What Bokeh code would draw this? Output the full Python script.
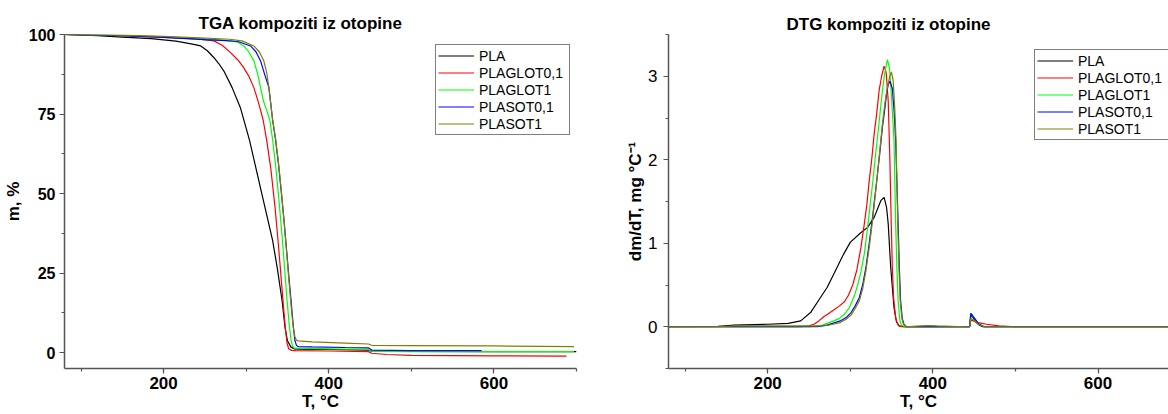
from bokeh.plotting import figure
from bokeh.layouts import row
from bokeh.models import Legend, LegendItem, SingleIntervalTicker, Range1d, Title
from bokeh.embed import file_html
from bokeh.resources import INLINE

FONT = "Liberation Sans"

series_names = ["PLA", "PLAGLOT0,1", "PLAGLOT1", "PLASOT0,1", "PLASOT1"]
series_colors = ["#000000", "#FF0000", "#00FF00", "#0000FF", "#808000"]

# ---------------- TGA (m, %) ----------------
pla_tga_T = [80, 120, 150, 185, 215, 235, 245, 253, 261, 267, 273, 283, 293, 304, 318, 332, 338, 343.5, 347, 350, 354, 358, 365, 400, 448, 452, 500, 600, 700]
pla_tga_m = [100, 99.6, 99.2, 98.7, 97.9, 97.0, 96.4, 94.9, 92.7, 90.8, 88.5, 83.3, 77.0, 66.8, 51.0, 35.3, 26.0, 16.3, 8.0, 3.7, 1.8, 1.2, 1.1, 1.0, 0.8, 0.4, 0.4, 0.3, 0.3]

glot01_tga_T = [80, 150, 200, 240, 261, 271, 281, 290, 297, 303, 309.3, 315, 320.5, 325, 330, 335, 339, 342, 345, 347.5, 349.5, 351.5, 355, 360, 400, 448, 452, 470, 500, 600, 688]
glot01_tga_m = [100, 99.6, 99.1, 98.6, 98.0, 96.6, 94.3, 92.0, 89.6, 87.0, 83.3, 78.5, 73.2, 66.5, 57.5, 45.5, 34.0, 24.5, 15.0, 7.5, 3.0, 1.2, 0.7, 0.6, 0.5, 0.3, -0.2, -0.6, -0.9, -1.0, -1.1]

glot1_tga_T = [80, 150, 200, 250, 281, 290, 297, 303, 309.3, 314, 317.4, 321, 325, 328.5, 332, 336, 340, 343.5, 346.5, 349.5, 352, 354, 356, 358, 362, 400, 448, 452, 500, 600, 697]
glot1_tga_m = [100, 99.7, 99.3, 98.7, 98.0, 97.6, 96.4, 94.6, 91.7, 87.5, 83.3, 79.0, 76.0, 73.2, 67.0, 58.0, 47.0, 36.5, 26.5, 16.5, 9.0, 4.5, 2.0, 1.5, 1.4, 1.2, 1.0, 0.4, 0.3, 0.3, 0.3]

sot01_tga_T = [80, 150, 200, 250, 275, 290, 305.3, 312, 317.4, 322, 327.5, 332, 335.5, 339, 342.5, 346, 349, 352, 355, 357, 359, 361, 363, 380, 420, 448, 452, 500, 585]
sot01_tga_m = [100, 99.6, 99.1, 98.4, 98.1, 97.8, 96.4, 94.5, 91.7, 87.8, 83.3, 73.2, 67.0, 59.5, 50.5, 41.0, 32.0, 23.0, 14.5, 8.5, 3.8, 2.2, 1.9, 1.8, 1.6, 1.5, 0.8, 0.6, 0.6]

sot1_tga_T = [80, 150, 200, 250, 280, 295, 309.3, 316, 321.4, 325, 327.5, 332, 335.5, 339, 342.5, 346, 349, 352, 355, 357, 359, 361, 363, 380, 420, 448, 452, 500, 600, 697]
sot1_tga_m = [100, 99.8, 99.4, 98.9, 98.5, 98.0, 96.4, 94.5, 91.7, 87.8, 83.3, 73.2, 67.5, 60.0, 51.0, 41.0, 31.5, 22.0, 13.0, 8.0, 5.0, 3.9, 3.7, 3.4, 3.0, 2.7, 2.3, 2.2, 2.1, 1.9]

# ---------------- DTG (dm/dT, mg/°C) ----------------
pla_dtg_T = [80, 140, 160, 200, 225, 240, 252, 264, 272, 280, 292, 300, 312, 321, 329, 337, 341, 344, 346, 349, 353, 356, 359, 365, 440, 444.5, 446, 448, 452, 456, 460, 700]
pla_dtg_v = [0, 0.005, 0.02, 0.03, 0.04, 0.07, 0.17, 0.35, 0.47, 0.63, 0.87, 1.01, 1.12, 1.19, 1.31, 1.51, 1.55, 1.43, 1.23, 0.71, 0.23, 0.06, 0.01, 0, 0, 0.0, 0.14, 0.12, 0.06, 0.02, 0, 0]

glot01_dtg_T = [80, 240, 250, 256, 262, 268, 274, 280, 287, 293, 298, 303, 308, 313, 317, 320, 323, 326, 329, 332, 335, 338, 341, 343.5, 346, 348, 349.5, 351, 352.5, 355, 358, 362, 440, 444.5, 446, 449, 455, 465, 480, 500, 700]
glot01_dtg_v = [0, 0, 0.01, 0.03, 0.07, 0.12, 0.16, 0.2, 0.25, 0.3, 0.38, 0.5, 0.68, 0.95, 1.23, 1.45, 1.75, 2.0, 2.31, 2.55, 2.83, 3.0, 3.12, 3.05, 2.7, 2.0, 1.3, 0.7, 0.35, 0.1, 0.02, 0, 0, 0, 0.08, 0.07, 0.05, 0.03, 0.01, 0, 0]

glot1_dtg_T = [80, 250, 264, 272, 280, 287, 293, 299, 305, 309, 313, 317, 321, 324, 327, 330, 333, 336, 339, 342, 345, 347.5, 350, 353, 355, 356.5, 358, 360, 362, 366, 440, 444.5, 446, 449, 455, 462, 700]
glot1_dtg_v = [0, 0, 0.01, 0.04, 0.07, 0.1, 0.15, 0.23, 0.37, 0.5, 0.66, 0.87, 1.19, 1.45, 1.71, 2.0, 2.27, 2.55, 2.83, 3.05, 3.2, 3.1, 2.75, 2.23, 1.23, 0.7, 0.31, 0.08, 0.02, 0, 0, 0, 0.16, 0.12, 0.04, 0, 0]

sot01_dtg_T = [80, 260, 272, 288, 295, 301, 306, 311, 315, 319, 323, 327, 330, 333, 336, 339, 342, 344, 346, 348.2, 351, 353, 355, 358, 359.5, 361, 363, 365, 368, 440, 444.5, 446, 449, 455, 462, 700]
sot01_dtg_v = [0, 0, 0.02, 0.07, 0.11, 0.17, 0.25, 0.35, 0.5, 0.71, 1.0, 1.31, 1.57, 1.83, 2.1, 2.39, 2.62, 2.79, 2.9, 2.94, 2.85, 2.6, 2.23, 1.23, 0.7, 0.31, 0.1, 0.03, 0, 0, 0, 0.16, 0.12, 0.04, 0, 0]

sot1_dtg_T = [80, 140, 160, 260, 272, 288, 295, 301, 306, 311, 315, 319, 323, 327, 330, 333, 336, 339, 342, 345, 348, 349.9, 352, 354, 355.5, 357.5, 359, 360.5, 362.5, 364.5, 368, 385, 395, 405, 440, 444.5, 446, 449, 455, 462, 700]
sot1_dtg_v = [0, 0, 0.01, 0.01, 0.015, 0.05, 0.09, 0.14, 0.22, 0.31, 0.45, 0.67, 0.95, 1.27, 1.55, 1.83, 2.13, 2.43, 2.68, 2.87, 3.0, 3.05, 2.95, 2.6, 2.23, 1.23, 0.7, 0.31, 0.1, 0.03, 0, 0.01, 0.015, 0.01, 0, 0, 0.1, 0.08, 0.03, 0, 0]

tga_series = [(pla_tga_T, pla_tga_m), (glot01_tga_T, glot01_tga_m), (glot1_tga_T, glot1_tga_m),
              (sot01_tga_T, sot01_tga_m), (sot1_tga_T, sot1_tga_m)]
dtg_series = [(pla_dtg_T, pla_dtg_v), (glot01_dtg_T, glot01_dtg_v), (glot1_dtg_T, glot1_dtg_v),
              (sot01_dtg_T, sot01_dtg_v), (sot1_dtg_T, sot1_dtg_v)]

H = 414


def make_fig(width, bl, br, xr, yr, xint, yint, ybold, xlabel, ylabel, ylabel_standoff):
    p = figure(width=width, height=H, x_range=Range1d(*xr), y_range=Range1d(*yr),
               output_backend="svg", toolbar_location=None, title=None,
               min_border_left=bl, min_border_right=br, min_border_top=34, min_border_bottom=46)
    p.outline_line_color = None
    p.grid.visible = False
    p.background_fill_color = "white"
    p.border_fill_color = "white"
    p.xaxis.ticker = SingleIntervalTicker(interval=xint, num_minor_ticks=2)
    p.yaxis.ticker = SingleIntervalTicker(interval=yint, num_minor_ticks=2)
    for ax in (p.xaxis[0], p.yaxis[0]):
        ax.axis_line_color = "#555555"
        ax.axis_line_width = 1.5
        ax.major_tick_line_color = "#555555"
        ax.minor_tick_line_color = "#555555"
        ax.major_tick_line_width = 1.2
        ax.minor_tick_line_width = 1.2
        ax.major_tick_in = 0
        ax.minor_tick_in = 0
        ax.major_tick_out = 5
        ax.minor_tick_out = 3
        ax.major_label_text_font = FONT
        ax.major_label_text_color = "black"
        ax.axis_label_text_font = FONT
        ax.axis_label_text_font_size = "17px"
        ax.axis_label_text_font_style = "bold"
        ax.axis_label_text_color = "black"
    p.xaxis.axis_label = xlabel
    p.yaxis.axis_label = ylabel
    p.xaxis.axis_label_standoff = 0
    p.yaxis.axis_label_standoff = ylabel_standoff
    p.xaxis.major_label_text_font_size = "17px"
    p.xaxis.major_label_text_font_style = "bold"
    p.xaxis.major_label_standoff = 3
    p.yaxis.major_label_text_font_size = "16px" if ybold else "17px"
    p.yaxis.major_label_text_font_style = "bold" if ybold else "normal"
    p.yaxis.major_label_standoff = 4 if ybold else 6
    return p


def add_title(p, text, offset, standoff):
    p.add_layout(Title(text=text, align="left", offset=offset, standoff=standoff,
                       text_font=FONT, text_font_size="17px", text_font_style="bold",
                       text_color="black"), "above")


def add_legend(p, renderers, loc):
    items = [LegendItem(label=n, renderers=[r]) for n, r in zip(series_names, renderers)]
    lg = Legend(items=items, location=loc, padding=2, spacing=0, margin=0,
                label_text_font=FONT, label_text_font_size="14px", label_text_color="black",
                glyph_width=36, glyph_height=17, label_height=17, label_standoff=5,
                label_width=88, border_line_color="black", border_line_width=1,
                background_fill_color="white", background_fill_alpha=1.0)
    p.add_layout(lg)


# ---------------- left: TGA ----------------
p1 = make_fig(600, 63, 24, (80, 700), (-5, 100), 200, 25, True, "T, °C", "m, %", 3)
r1 = []
for (t, m), c in zip(tga_series, series_colors):
    r1.append(p1.line(t, m, line_color=c, line_width=1.2))
add_legend(p1, r1, (371, 233))
add_title(p1, "TGA kompoziti iz otopine", 134, 4)

# ---------------- right: DTG ----------------
p2 = make_fig(568, 68, 0, (80, 685.3), (-0.5, 3.5), 200, 1, False, "T, °C", "dm/dT, mg °C\u207b\u00b9", 0)
r2 = []
for (t, v), c in zip(dtg_series, series_colors):
    r2.append(p2.line(t, v, line_color=c, line_width=1.2))
add_legend(p2, r2, (366, 228))
add_title(p2, "DTG kompoziti iz otopine", 118, 1)

layout = row(p1, p2)
open("out.html", "w").write(file_html(layout, INLINE))
